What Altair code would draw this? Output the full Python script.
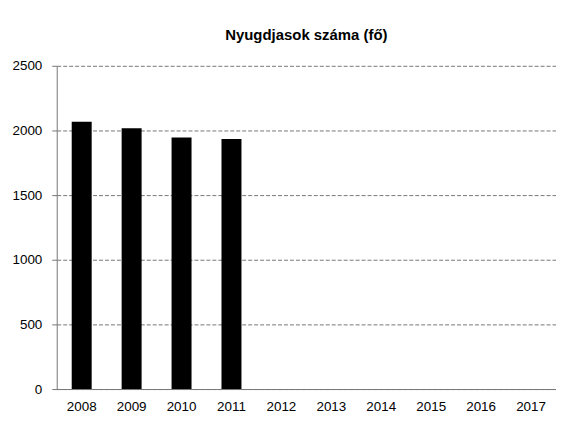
import altair as alt
import pandas as pd

years = ["2008", "2009", "2010", "2011", "2012", "2013", "2014", "2015", "2016", "2017"]
values = [2067, 2018, 1946, 1933, None, None, None, None, None, None]

df = pd.DataFrame({"ev": years, "fo": values})

chart = alt.Chart(df).mark_bar(color="black").encode(
    x=alt.X("ev:N", sort=years,
            scale=alt.Scale(paddingInner=0.6, paddingOuter=0.3),
            axis=alt.Axis(title=None, labelAngle=0, labelFontSize=13.5, labelPadding=11,
                          ticks=False, domainColor="#777", labelColor="black",
                          labelFont="Liberation Sans")),
    y=alt.Y("fo:Q", scale=alt.Scale(domain=[0, 2500]),
            axis=alt.Axis(title=None, values=[0, 500, 1000, 1500, 2000, 2500], format="d",
                          labelFontSize=13.5, labelPadding=10, tickSize=5, tickColor="#777",
                          gridColor="#777", gridDash=[4, 2], domainColor="#777",
                          labelColor="black", labelFont="Liberation Sans")),
).properties(
    width=502, height=325,
    title=alt.TitleParams("Nyugdjasok száma (fő)", fontSize=15, fontWeight="bold",
                          font="Liberation Sans", offset=16, anchor="middle", color="black"),
    autosize=alt.AutoSizeParams(type="none"),
    padding={"left": 49, "top": 57, "right": 0, "bottom": 30},
).configure_view(stroke=None)

chart.save("out.html", embed_options={"renderer": "svg", "actions": False})
